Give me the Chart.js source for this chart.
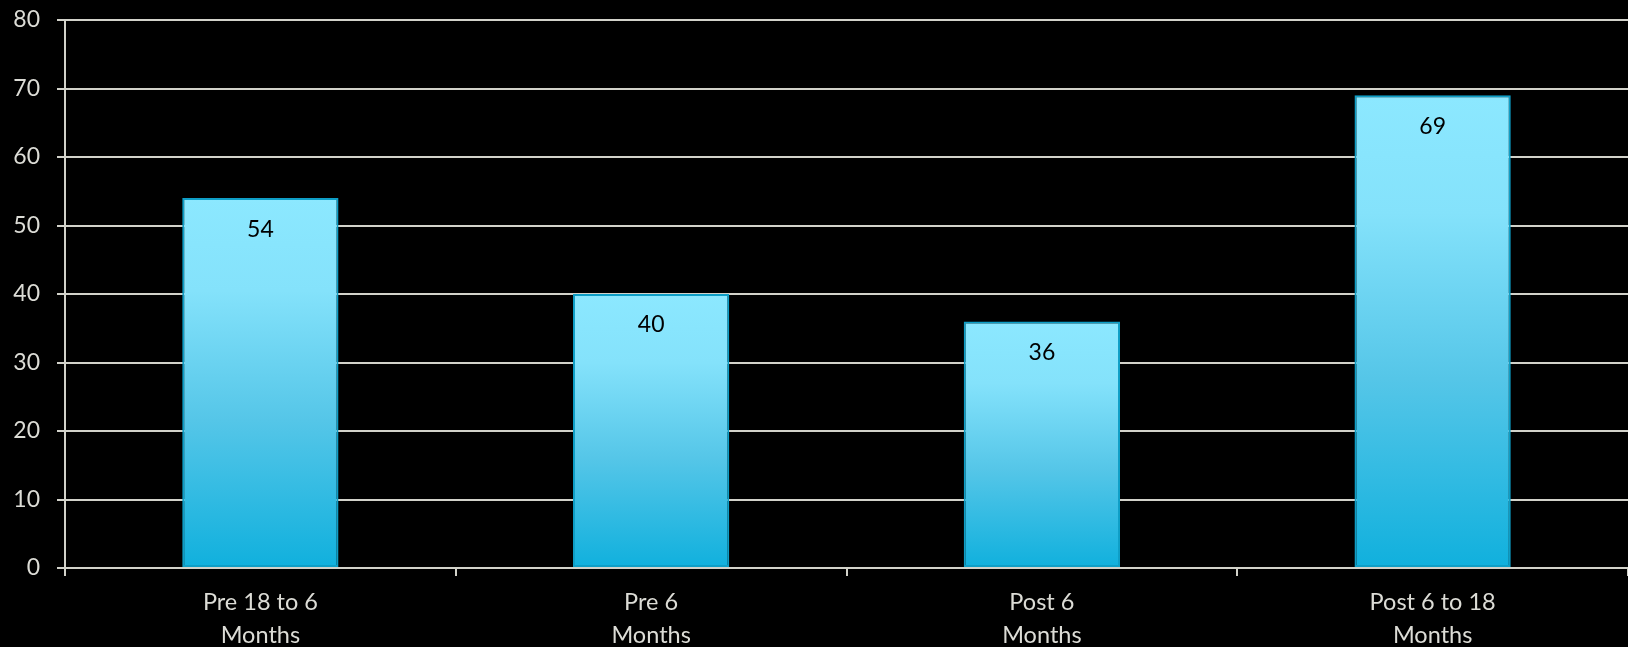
<!DOCTYPE html>
<html>
<head>
<meta charset="utf-8">
<script src="https://cdn.jsdelivr.net/npm/chart.js@4/dist/chart.umd.min.js"></script>
<style>
    html, body { margin: 0; padding: 0; background: #000; }
    #wrap { width: 1628px; height: 647px; }
</style>
</head>
<body>
<div id="wrap"><canvas id="chart" width="1628" height="647"></canvas></div>
<script>
// Periods and counts
const categories = [
    ['Pre 18 to 6', 'Months'],
    ['Pre 6', 'Months'],
    ['Post 6', 'Months'],
    ['Post 6 to 18', 'Months']
];
const counts = [54, 40, 36, 69];
const yTicks = [0, 10, 20, 30, 40, 50, 60, 70, 80];

const TEXT = '#dcdcd6';
const LINE = '#d2d2ca';
const FONT = "Lato, 'Open Sans', sans-serif";

// Each bar gets its own vertical fade: light cyan on top, deeper blue at the base
function barFill(ctx) {
    const chart = ctx.chart;
    if (!chart.chartArea) return '#5ccbea';
    const y = chart.scales.y;
    const top = y.getPixelForValue(ctx.raw);
    const bottom = y.getPixelForValue(0);
    const g = chart.ctx.createLinearGradient(0, top, 0, bottom);
    g.addColorStop(0, '#8ce8ff');
    g.addColorStop(0.25, '#84e2fb');
    g.addColorStop(0.6, '#55c6e8');
    g.addColorStop(1, '#10b0dd');
    return g;
}

// Value printed inside the top of each bar
const valueLabels = {
    id: 'valueLabels',
    afterDatasetsDraw(chart) {
        const c = chart.ctx;
        const meta = chart.getDatasetMeta(0);
        c.save();
        c.fillStyle = '#000';
        c.font = "23px " + FONT;
        c.textAlign = 'center';
        c.textBaseline = 'middle';
        meta.data.forEach((bar, i) => {
            c.fillText(String(counts[i]), bar.x, bar.y + 31);
        });
        c.restore();
    }
};

new Chart(document.getElementById('chart'), {
    type: 'bar',
    data: {
        labels: categories,
        datasets: [{
            data: counts,
            backgroundColor: barFill,
            borderColor: '#0e9ec6',
            borderWidth: 2,
            borderSkipped: false,
            categoryPercentage: 1,
            barPercentage: 0.4
        }]
    },
    options: {
        responsive: false,
        animation: false,
        devicePixelRatio: 1,
        layout: { padding: { top: 20, right: 0, bottom: 0, left: 0 } },
        plugins: {
            legend: { display: false },
            tooltip: { enabled: false }
        },
        scales: {
            x: {
                afterFit(scale) {
                    scale.height = 79;
                    scale.paddingLeft = 0;
                    scale.paddingRight = 0;
                },
                grid: {
                    drawOnChartArea: false,
                    drawTicks: true,
                    tickLength: 8,
                    color: LINE,
                    lineWidth: 2
                },
                border: { color: LINE, width: 2 },
                ticks: {
                    color: TEXT,
                    padding: 10,
                    maxRotation: 0,
                    font: { family: FONT, size: 23.5, lineHeight: 1.4 }
                }
            },
            y: {
                min: 0,
                max: 80,
                afterFit(scale) {
                    scale.width = 65;
                    scale.paddingTop = 0;
                    scale.paddingBottom = 0;
                },
                afterBuildTicks(scale) {
                    scale.ticks = yTicks.map(v => ({ value: v }));
                },
                grid: {
                    color: LINE,
                    lineWidth: 2,
                    tickLength: 8
                },
                border: { color: LINE, width: 2 },
                ticks: {
                    color: TEXT,
                    padding: 17,
                    font: { family: FONT, size: 23 }
                }
            }
        }
    },
    plugins: [valueLabels]
});
</script>
</body>
</html>
